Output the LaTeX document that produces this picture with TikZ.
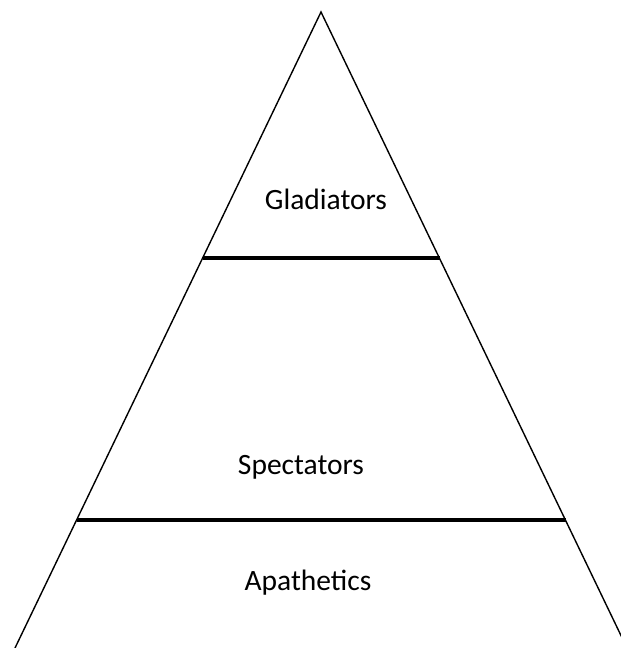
\documentclass[tikz,border=0pt]{standalone}
\usepackage{fontspec}
\setmainfont{Carlito}
\begin{document}
\begin{tikzpicture}[x=1pt,y=-1pt]
			\useasboundingbox (0, 0) rectangle (621, 648);
			\clip (0, 0) rectangle (621, 648);
			\fill[white] (0, 0) rectangle (621, 648);
			\coordinate (apex) at (321, 12);
			\coordinate (left) at (15, 648);
			\coordinate (right) at (627, 648);
			\draw[black, line width=1.4pt] (left) -- (apex) -- (right);
			\draw[black, line width=4.5pt] (203, 258) -- (440, 258);
			\draw[black, line width=4.5pt] (77, 520) -- (566, 520);
			\node[font=\fontsize{29.5}{32}\selectfont] (glad) at (326, 199) {Gladiators};
			\node[font=\fontsize{29.5}{32}\selectfont] (spec) at (301, 467) {Spectators};
			\node[font=\fontsize{29.5}{32}\selectfont] (apat) at (308, 583) {Apathetics};
		\end{tikzpicture}
\end{document}
